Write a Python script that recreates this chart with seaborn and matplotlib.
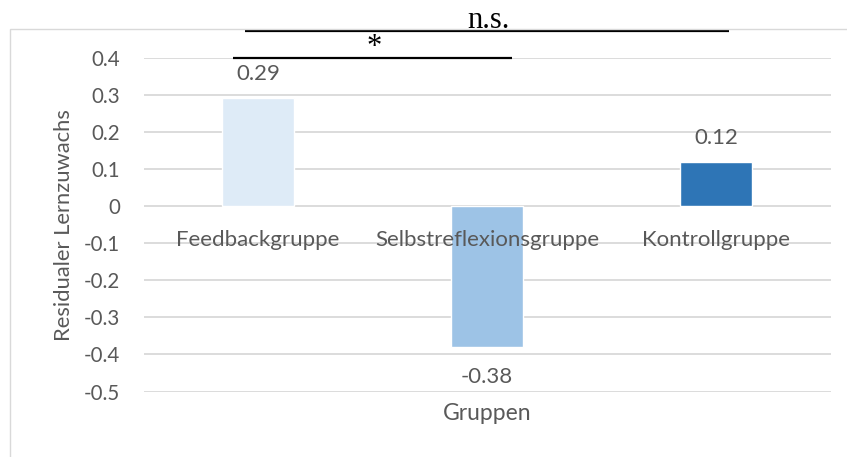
import matplotlib.pyplot as plt
import seaborn as sns
from matplotlib.patches import Rectangle

# Chart data
groups = ['Feedbackgruppe', 'Selbstreflexionsgruppe', 'Kontrollgruppe']
values = [0.29, -0.38, 0.12]
bar_colors = ['#DEEBF7', '#9DC3E6', '#2E75B6']
y_ticks = [0.4, 0.3, 0.2, 0.1, 0, -0.1, -0.2, -0.3, -0.4, -0.5]
y_tick_labels = ['0.4', '0.3', '0.2', '0.1', '0', '-0.1', '-0.2', '-0.3', '-0.4', '-0.5']

# significance brackets: (from group, to group, label)
sig_pairs = [(0, 1, '*'), (0, 2, 'n.s.')]

TEXT = '#595959'
GRID = '#D9D9D9'

sns.set_theme(style='white')
plt.rcParams['font.family'] = ['Lato', 'DejaVu Sans']

fig = plt.figure(figsize=(8.47, 4.57), dpi=100)
ax = fig.add_axes([143.5 / 847, 1 - 391.5 / 457, 687 / 847, 333.8 / 457])

sns.barplot(x=groups, y=values, hue=groups, palette=bar_colors, width=0.314,
            legend=False, saturation=1, ax=ax)

ax.set_ylim(-0.5, 0.4)
ax.set_xlim(-0.5, len(groups) - 0.5)
ax.set_yticks(y_ticks)
ax.set_yticklabels(y_tick_labels)
ax.tick_params(axis='y', length=0, pad=17, labelsize=14.8, labelcolor=TEXT)
ax.set_xticks([])
ax.yaxis.grid(True, color=GRID, lw=1.3)
ax.set_axisbelow(True)
for s in ax.spines.values():
    s.set_visible(False)

# axis titles
ax.set_ylabel('Residualer Lernzuwachs', fontsize=15.8, color=TEXT, va='baseline')
ax.yaxis.set_label_coords(-0.107, 0.5)
ax.set_xlabel('Gruppen', fontsize=16.5, color=TEXT, va='baseline')
ax.xaxis.set_label_coords(0.5, -29 / 333.8)

# category labels sit under the zero line
for i, g in enumerate(groups):
    ax.annotate(g, (i, 0), xytext=(0, -40), textcoords='offset pixels',
                ha='center', va='baseline', fontsize=16, color=TEXT)

# value labels
for i, v in enumerate(values):
    off = 18 if v >= 0 else -36
    ax.annotate(f'{v:.2f}', (i, v), xytext=(0, off), textcoords='offset pixels',
                ha='center', va='baseline', fontsize=16, color=TEXT)

# significance brackets
sig_levels = [0.4, 0.472]
sig_overhang = [0.109, 0.058]
for (a, b, lab), lvl, oh in zip(sig_pairs, sig_levels, sig_overhang):
    ax.plot([a - oh, b + oh], [lvl, lvl], color='black', lw=1.6, clip_on=False,
            solid_capstyle='butt', zorder=5)
    ax.annotate(lab, ((a + b) / 2, lvl), xytext=(2, 3), textcoords='offset pixels',
                ha='center', va='baseline', fontsize=22, color='black',
                family=['Liberation Serif', 'DejaVu Serif'], annotation_clip=False)

# light chart-area border (left and top)
fig.add_artist(Rectangle((10 / 847, -0.1), 2, 1 - 29 / 457 + 0.1,
                         transform=fig.transFigure, fill=False,
                         edgecolor=GRID, lw=1))

fig.savefig('out.png', dpi=100)
